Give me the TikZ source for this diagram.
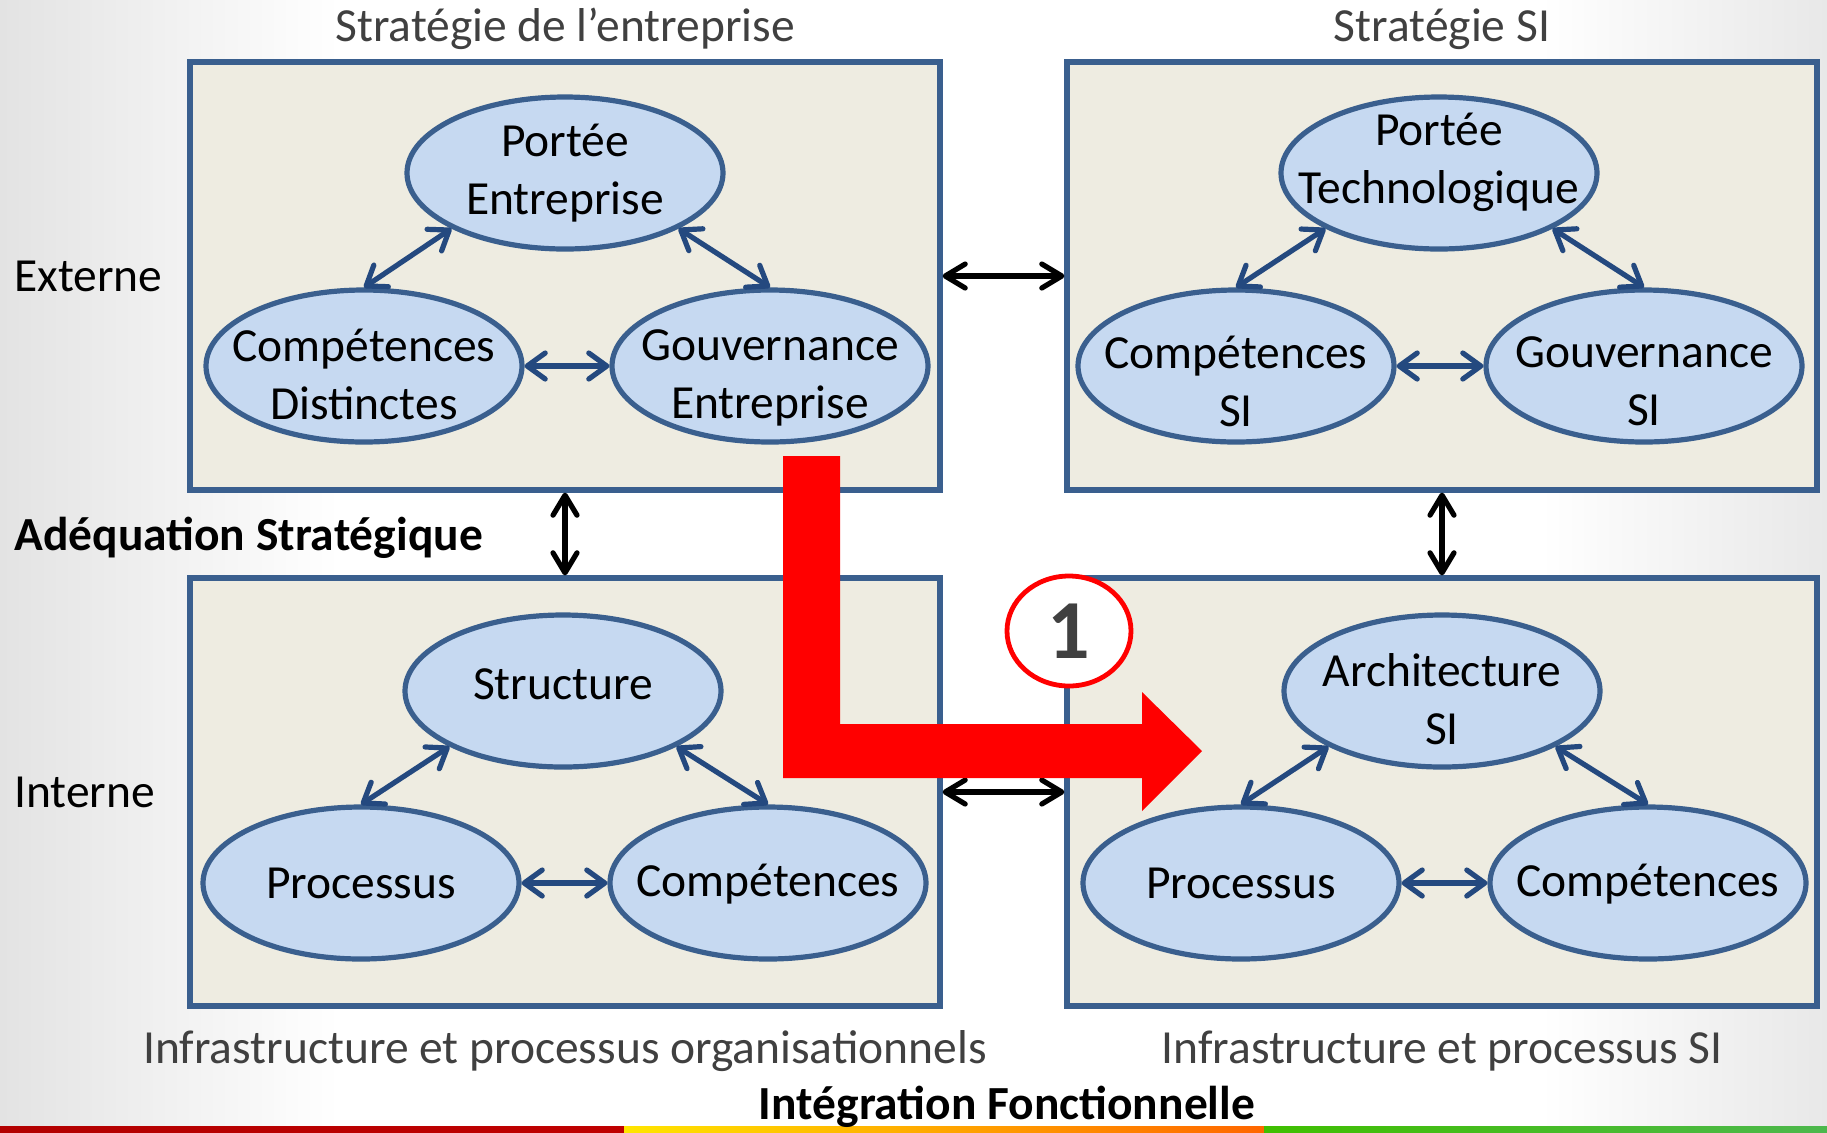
\documentclass[tikz,border=0pt]{standalone}
\usepackage{fontspec}
\setmainfont{Carlito}
\usetikzlibrary{arrows.meta,shapes.geometric}

\definecolor{cadre}{HTML}{3A5F8E}
\definecolor{fond}{HTML}{EEECE1}
\definecolor{bulleclair}{HTML}{C6D9F1}
\definecolor{flechebleu}{HTML}{24497F}
\definecolor{grisfonce}{HTML}{404040}
\definecolor{rougevif}{HTML}{FF0000}

\tikzset{
  bloc/.style={draw=cadre, fill=fond, line width=2.6pt, minimum width=375pt,
    minimum height=214pt, inner sep=0pt},
  bulle/.style={ellipse, draw=cadre, fill=bulleclair, line width=2.6pt,
    minimum width=158pt, minimum height=76pt, inner sep=0pt},
  texte/.style={font=\fontsize{23.75}{29}\selectfont, inner sep=0pt},
  gras/.style={font=\fontsize{23.75}{29}\selectfont\bfseries, inner sep=0pt},
  lien/.style={{Straight Barb[length=9pt,width=13pt,round]}-{Straight Barb[length=9pt,width=13pt,round]},
    draw=flechebleu, line width=2.6pt, line cap=round},
  liaison/.style={{Straight Barb[length=10pt,width=12pt,round]}-{Straight Barb[length=10pt,width=12pt,round]},
    draw=black, line width=2.6pt, line cap=round}
}

% ellipse et son texte, #1 = decalage vertical du texte
\newcommand{\ovale}[4][0pt]{%
  \node[bulle] (#2) at (#3) {};
  \node[texte, align=center, yshift=#1] (#2-t) at (#2) {#4};
}

\begin{document}
\begin{tikzpicture}[x=0.5pt, y=-0.5pt]
  % fond de la page
  \useasboundingbox (0,0) rectangle (1827,1132);
  \fill[white] (0,0) rectangle (1827,1132);
  \shade[left color=black!11, right color=white] (0,0) rectangle (340,1132);
  \shade[left color=white, right color=black!9] (1540,0) rectangle (1827,1132);
  \shade[left color=red!70!black, right color=red!75!black] (0,1126) rectangle (624,1132);
  \shade[left color=yellow!80!orange, right color=orange!80!red] (624,1126) rectangle (1264,1132);
  \shade[left color=green!50!olive, right color=green!60!black!70] (1264,1126) rectangle (1827,1132);

  % les quatre domaines
  \node[bloc] (se) at (565,276) {};
  \node[bloc] (ssi) at (1442,276) {};
  \node[bloc] (ipo) at (565,792) {};
  \node[bloc] (ipsi) at (1442,792) {};

  % ellipses
  \ovale{pe}{565,173}{Portée\\Entreprise}
  \ovale[-4pt]{cd}{364,366}{Compétences\\Distinctes}
  \ovale[-5.8pt]{ge}{770,366}{Gouvernance\\Entreprise}
  \ovale[5.2pt]{pt}{1439,173}{Portée\\Technologique}
  \ovale[-7.5pt]{csi}{1236,366}{Compétences\\SI}
  \ovale[-7.5pt]{gsi}{1644,366}{Gouvernance\\SI}
  \ovale[3.5pt]{st}{563,691}{Structure}
  \ovale{pr}{361,883}{Processus}
  \ovale[-0.6pt]{co}{768,883}{Compétences}
  \ovale[-4pt]{asi}{1442,691}{Architecture\\SI}
  \ovale{prsi}{1241,883}{Processus}
  \ovale[-0.6pt]{cosi}{1648,883}{Compétences}

  % liens dans chaque domaine
  \foreach \h/\g/\d in {pe/cd/ge, pt/csi/gsi, st/pr/co, asi/prsi/cosi} {
    \draw[lien] (\h.south west) -- (\g.north);
    \draw[lien] (\h.south east) -- (\d.north);
    \draw[lien] (\g.east) -- (\d.west);
  }

  % liaisons entre domaines
  \draw[liaison] (se.east) -- (ssi.west);
  \draw[liaison] (ipo.east) -- (ipsi.west);
  \draw[liaison] (se.south) -- (ipo.north);
  \draw[liaison] (ssi.south) -- (ipsi.north);

  % grande fleche rouge
  \fill[rougevif] (783,456) -- (840,456) -- (840,724) -- (1142,724) -- (1142,692)
    -- (1202,751) -- (1142,811) -- (1142,778) -- (783,778) -- cycle;
  \node[ellipse, draw=rougevif, fill=white, line width=2.4pt, minimum width=62pt,
    minimum height=55pt, inner sep=0pt, text=grisfonce,
    font=\fontsize{42}{42}\selectfont\bfseries] (un) at (1069,631) {1};

  % titres
  \node[texte, text=grisfonce] (t-se) at (565,29) {Stratégie de l’entreprise};
  \node[texte, text=grisfonce] (t-ssi) at (1442,29) {Stratégie SI};
  \node[texte, anchor=west] (t-ext) at (14,276) {Externe};
  \node[gras, anchor=west] (t-adeq) at (14,538) {Adéquation Stratégique};
  \node[texte, anchor=west] (t-int) at (14,792) {Interne};
  \node[texte, text=grisfonce] (t-ipo) at (565,1051) {Infrastructure et processus organisationnels};
  \node[texte, text=grisfonce] (t-ipsi) at (1442,1051) {Infrastructure et processus SI};
  \node[gras, anchor=base] (t-if) at (1007,1119) {Intégration Fonctionnelle};
\end{tikzpicture}
\end{document}
